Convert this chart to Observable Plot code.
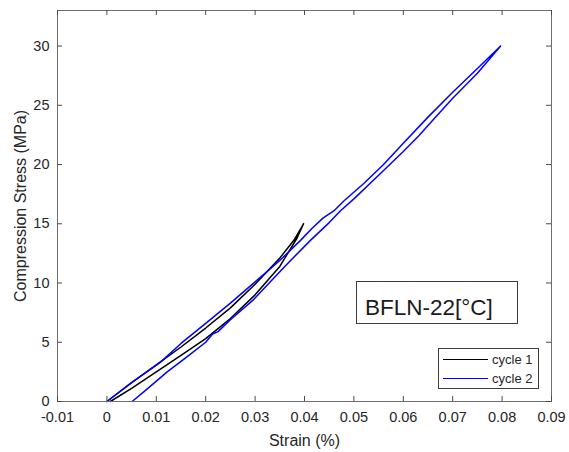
<!DOCTYPE html>
<html>
<head>
<meta charset="utf-8">
<script src="https://cdn.jsdelivr.net/npm/d3@7"></script>
<script src="https://cdn.jsdelivr.net/npm/@observablehq/plot@0.6"></script>
<style>
  body { margin: 0; background: #fff; }
  #chart { position: relative; width: 569px; height: 452px; }
</style>
</head>
<body>
<div id="chart"></div>
<script>
// ---- data ----
const cycle1Strain = [0, 0.005, 0.01, 0.015, 0.02, 0.025, 0.03, 0.035, 0.038, 0.0398,
                      0.0385, 0.035, 0.03, 0.025, 0.02, 0.015, 0.01, 0.005, 0.0007];
const cycle1Stress = [0, 1.6, 3.1, 4.6, 6.2, 7.9, 9.9, 12.1, 13.7, 15.0,
                      13.8, 11.4, 9.0, 7.0, 5.3, 3.9, 2.5, 1.1, 0];

const cycle2Strain = [0, 0.005, 0.0108, 0.015, 0.02, 0.025, 0.03, 0.035, 0.0392, 0.0415, 0.0438, 0.046, 0.0479,
                      0.052, 0.056, 0.06, 0.065, 0.07, 0.075, 0.0797,
                      0.075, 0.07, 0.065, 0.0631, 0.06, 0.055, 0.05, 0.0473, 0.045, 0.0412, 0.036,
                      0.0297, 0.025, 0.0225, 0.0214, 0.02, 0.016, 0.0122, 0.008, 0.0051];
const cycle2Stress = [0, 1.6, 3.3, 4.9, 6.6, 8.3, 10.1, 11.9, 13.6, 14.6, 15.5, 16.1, 16.9,
                      18.4, 20.0, 21.8, 24.0, 26.1, 28.1, 30.0,
                      27.7, 25.6, 23.3, 22.4, 21.1, 19.1, 17.1, 16.1, 15.1, 13.6, 11.4,
                      8.6, 6.9, 5.9, 5.7, 5.0, 3.7, 2.5, 1.0, 0];

const xTicks = [-0.01, 0, 0.01, 0.02, 0.03, 0.04, 0.05, 0.06, 0.07, 0.08, 0.09];
const xTickLabels = ["-0.01", "0", "0.01", "0.02", "0.03", "0.04", "0.05", "0.06", "0.07", "0.08", "0.09"];
const yTicks = [0, 5, 10, 15, 20, 25, 30];
const yTickLabels = ["0", "5", "10", "15", "20", "25", "30"];

const seriesNames = ["cycle 1", "cycle 2"];
const seriesColors = ["#000000", "#0000ff"];
const annotationText = "BFLN-22[°C]";
const xLabel = "Strain (%)";
const yLabel = "Compression Stress (MPa)";

// ---- build tables ----
const cycle1 = cycle1Strain.map((x, i) => ({x, y: cycle1Stress[i]}));
const cycle2 = cycle2Strain.map((x, i) => ({x, y: cycle2Stress[i]}));

const font = "Liberation Sans, Arial, Helvetica, sans-serif";
const textColor = "#262626";
const axisColor = "#6e6e6e";
const tickColor = "#4a4a4a";
const xMin = -0.01, xMax = 0.09, yMin = 0, yMax = 33;

const W = 569, H = 452, mL = 57, mR = 18, mT = 10, mB = 51;
const tickPx = 5;
// tick length converted from pixels into data units of each axis
const tickLenY = tickPx * (yMax - yMin) / (H - mT - mB);
const tickLenX = tickPx * (xMax - xMin) / (W - mL - mR);

const chart = Plot.plot({
  width: W,
  height: H,
  marginLeft: mL,
  marginRight: mR,
  marginTop: mT,
  marginBottom: mB,
  style: {fontFamily: font, fontSize: "14px", color: textColor, background: "#ffffff"},
  x: {domain: [xMin, xMax]},
  y: {domain: [yMin, yMax]},
  marks: [
    Plot.line(cycle1, {x: "x", y: "y", stroke: seriesColors[0], strokeWidth: 1.5}),
    Plot.line(cycle2, {x: "x", y: "y", stroke: seriesColors[1], strokeWidth: 1.5}),
    Plot.frame({stroke: axisColor, strokeWidth: 1}),
    // tick labels
    Plot.axisX(xTicks, {anchor: "bottom", tickSize: 0, tickPadding: 10, label: null,
      tickFormat: d => xTickLabels[xTicks.indexOf(d)], fill: textColor, fontSize: 14.5}),
    Plot.axisY(yTicks, {anchor: "left", tickSize: 0, tickPadding: 8, label: null,
      tickFormat: d => yTickLabels[yTicks.indexOf(d)], fill: textColor, fontSize: 14.5}),
    // inward ticks on all four sides
    Plot.ruleX(xTicks, {x: d => d, y1: yMin, y2: yMin + tickLenY, stroke: tickColor}),
    Plot.ruleX(xTicks, {x: d => d, y1: yMax, y2: yMax - tickLenY, stroke: tickColor}),
    Plot.ruleY(yTicks, {y: d => d, x1: xMin, x2: xMin + tickLenX, stroke: tickColor}),
    Plot.ruleY(yTicks, {y: d => d, x1: xMax, x2: xMax - tickLenX, stroke: tickColor}),
    // axis titles
    Plot.text([xLabel], {text: d => d, frameAnchor: "bottom", dy: 39, lineAnchor: "middle",
      textAnchor: "middle", fontSize: 16, fill: textColor}),
    Plot.text([yLabel], {text: d => d, frameAnchor: "left", dx: -37, rotate: -90,
      textAnchor: "middle", lineAnchor: "middle", fontSize: 16, fill: textColor})
  ]
});

document.getElementById("chart").appendChild(chart);

// ---- annotation box and legend, placed relative to the plot frame ----
const [fx0, fx1] = chart.scale("x").range;
const [fy0, fy1] = chart.scale("y").range; // fy0 = bottom, fy1 = top
const svg = d3.select(chart);

// annotation box "BFLN-22[°C]"
const ann = svg.append("g").attr("transform", `translate(${fx1 - 195},${fy0 - 120})`);
ann.append("rect").attr("x", 0.5).attr("y", 0.5).attr("width", 161).attr("height", 42)
  .attr("fill", "#fff").attr("stroke", "#3c3c3c").attr("stroke-width", 1);
ann.append("text").attr("x", 9).attr("y", 34).attr("fill", "#1a1a1a")
  .attr("text-anchor", "start")
  .style("font-family", font).style("font-size", "22.5px").text(annotationText);

// legend
const leg = svg.append("g").attr("transform", `translate(${fx1 - 113},${fy0 - 53})`);
leg.append("rect").attr("x", 0.5).attr("y", 0.5).attr("width", 100).attr("height", 40)
  .attr("fill", "#fff").attr("stroke", "#3c3c3c").attr("stroke-width", 1);
seriesNames.forEach((name, i) => {
  const yy = 11.5 + i * 19;
  leg.append("line").attr("x1", 5).attr("x2", 50).attr("y1", yy).attr("y2", yy)
    .attr("stroke", seriesColors[i]).attr("stroke-width", 1.2);
  leg.append("text").attr("x", 54).attr("y", yy).attr("dy", "0.35em").attr("fill", textColor)
    .attr("text-anchor", "start")
    .style("font-family", font).style("font-size", "13px").text(name);
});
</script>
</body>
</html>
